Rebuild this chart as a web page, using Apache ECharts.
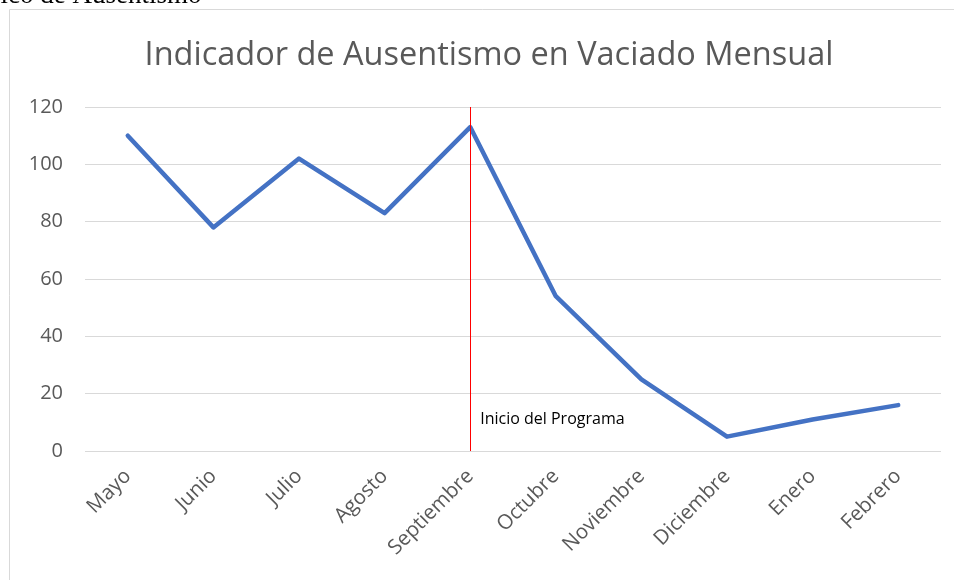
<!DOCTYPE html>
<html>
<head>
<meta charset="utf-8">
<script src="https://cdn.jsdelivr.net/npm/echarts@6/dist/echarts.min.js"></script>
<style>
  html, body { margin: 0; padding: 0; background: #fff; }
  #main { width: 954px; height: 580px; }
</style>
</head>
<body>
<div id="main"></div>
<script>
// meses del vaciado
var meses = ['Mayo', 'Junio', 'Julio', 'Agosto', 'Septiembre', 'Octubre', 'Noviembre', 'Diciembre', 'Enero', 'Febrero'];
// indicador de ausentismo
var ausentismo = [110, 78, 102, 83, 113, 54, 25, 5, 11, 16];
var yTicks = [0, 20, 40, 60, 80, 100, 120];
var mesInicio = 'Septiembre';
var textoInicio = 'Inicio del Programa';

var chart = echarts.init(document.getElementById('main'));
var option = {
    animation: false,
    title: {
        text: 'Indicador de Ausentismo en Vaciado Mensual',
        left: 484,
        textAlign: 'center',
        top: 34,
        textStyle: {
            fontFamily: 'Open Sans',
            fontSize: 32.5,
            fontWeight: 'normal',
            color: '#595959'
        }
    },
    graphic: [
        {
            type: 'rect',
            shape: { x: 9.5, y: 9.5, width: 960, height: 600 },
            style: { fill: 'none', stroke: '#d9d9d9', lineWidth: 1 },
            silent: true
        },
        {
            type: 'text',
            x: -49,
            y: 9,
            silent: true,
            style: {
                text: 'Gráfico de Ausentismo',
                font: '27px "Liberation Serif"',
                fill: '#000',
                verticalAlign: 'bottom'
            }
        }
    ],
    grid: {
        left: 85,
        right: 13,
        top: 107,
        bottom: 129,
        containLabel: false
    },
    xAxis: {
        type: 'category',
        data: meses,
        boundaryGap: true,
        axisLine: { show: false },
        axisTick: { show: false },
        axisLabel: {
            rotate: 45,
            margin: 22,
            interval: 0,
            fontFamily: 'Open Sans',
            fontSize: 20.5,
            color: '#595959'
        }
    },
    yAxis: {
        type: 'value',
        min: yTicks[0],
        max: yTicks[yTicks.length - 1],
        interval: 20,
        axisLine: { show: false },
        axisTick: { show: false },
        splitLine: { lineStyle: { color: '#d9d9d9', width: 1 } },
        axisLabel: {
            margin: 22,
            fontFamily: 'Open Sans',
            fontSize: 20,
            color: '#595959'
        }
    },
    series: [{
        type: 'line',
        data: ausentismo,
        symbol: 'none',
        lineStyle: { color: '#4472C4', width: 4.5, cap: 'round', join: 'round' },
        markLine: {
            silent: true,
            symbol: 'none',
            label: { show: false },
            lineStyle: { color: '#ff0000', width: 1, type: 'solid' },
            data: [{ xAxis: mesInicio }]
        },
        markPoint: {
            silent: true,
            symbol: 'circle',
            symbolSize: 0,
            data: [{ coord: [mesInicio, 11] }],
            label: {
                show: true,
                position: 'right',
                distance: 10,
                formatter: textoInicio,
                fontFamily: 'Open Sans',
                fontSize: 16,
                color: '#000'
            }
        }
    }]
};
chart.setOption(option);
</script>
</body>
</html>
